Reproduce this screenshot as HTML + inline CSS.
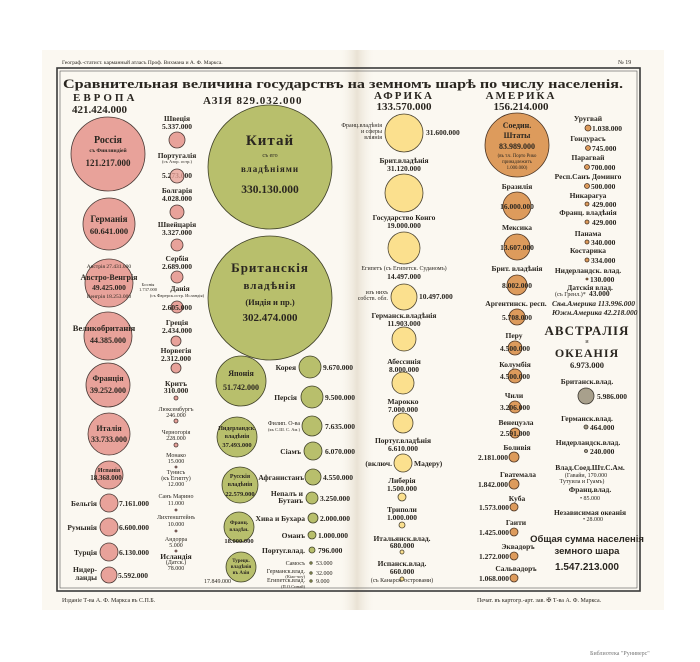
<!DOCTYPE html>
<html><head><meta charset="utf-8"><style>
html,body{margin:0;padding:0;background:#fff;}
svg{display:block;}
text{font-family:"Liberation Serif","DejaVu Serif",serif;fill:#2a2620;}
.b{font-weight:bold;}
.s{font-size:6px;}
.m{font-size:7.5px;font-weight:bold;}
.c{text-anchor:middle;}
.e{fill:#e8a29a;stroke:#4a3a36;stroke-width:.8;}
.a{fill:#b8bf6c;stroke:#3f4028;stroke-width:.8;}
.f{fill:#fbe08e;stroke:#4a4230;stroke-width:.8;}
.o{fill:#dd9b5c;stroke:#4a3424;stroke-width:.8;}
.g{fill:#a8a08c;stroke:#3a3630;stroke-width:.8;}
</style></head><body>
<svg width="700" height="662" viewBox="0 0 700 662" xmlns="http://www.w3.org/2000/svg">
<defs><linearGradient id="fold" x1="0" x2="1"><stop offset="0" stop-color="#f7f3ea" stop-opacity="0"/><stop offset=".5" stop-color="#e9e2d4"/><stop offset="1" stop-color="#f7f3ea" stop-opacity="0"/></linearGradient></defs>
<rect x="42" y="50" width="622" height="560" fill="#fbf8f1"/>
<rect x="340" y="50" width="34" height="560" fill="url(#fold)"/>
<text x="62" y="64" class="s" style="font-size:5.5px">Географ.-статист. карманный атласъ Проф. Вихмана и А. Ф. Маркса.</text>
<text x="618" y="64" class="s">№ 19</text>
<rect x="57" y="68" width="583" height="523" fill="none" stroke="#3a3a3a" stroke-width="1.6"/>
<rect x="60" y="71" width="577" height="517" fill="none" stroke="#555" stroke-width=".6"/>
<text x="63" y="88" class="b" style="font-size:12.5px" textLength="560" lengthAdjust="spacingAndGlyphs">Сравнительная величина государствъ на земномъ шарѣ по числу населенія.</text>
<text x="73" y="101" class="b" style="font-size:11px;letter-spacing:3px">ЕВРОПА</text>
<text x="72" y="113" class="b" style="font-size:11px">421.424.000</text>
<text x="203" y="104" class="b" style="font-size:11px;letter-spacing:1px">АЗІЯ 829.032.000</text>
<text x="404" y="99" class="b c" style="font-size:11px;letter-spacing:2px">АФРИКА</text>
<text x="404" y="110" class="b c" style="font-size:11px">133.570.000</text>
<text x="521" y="99" class="b c" style="font-size:11px;letter-spacing:2px">АМЕРИКА</text>
<text x="521" y="110" class="b c" style="font-size:11px">156.214.000</text>

<!-- Europe -->
<circle class="e" cx="108" cy="154" r="37"/>
<text x="108" y="143" class="b c" style="font-size:10px">Россія</text>
<text x="108" y="152" class="b c" style="font-size:5.5px">съ Финляндіей</text>
<text x="108" y="166" class="b c" style="font-size:9px">121.217.000</text>
<circle class="e" cx="109" cy="224" r="26"/>
<text x="109" y="222" class="b c" style="font-size:9px">Германія</text>
<text x="109" y="234" class="b c" style="font-size:8.5px">60.641.000</text>
<circle class="e" cx="109" cy="283" r="24"/>
<text x="109" y="268" class="c" style="font-size:5.5px">Австрія 27.431.000</text>
<text x="109" y="280" class="b c" style="font-size:8px">Австро-Венгрія</text>
<text x="109" y="290" class="b c" style="font-size:7.5px">49.425.000</text>
<text x="109" y="298" class="c" style="font-size:5.5px">Венгрія 18.253.000</text>
<text x="148" y="286" class="c" style="font-size:4.5px">Боснія</text><text x="148" y="291" class="c" style="font-size:4.5px">1.737.000</text>
<circle class="e" cx="108" cy="336" r="24"/>
<text x="104" y="331" class="b c" style="font-size:8.5px">Великобританія</text>
<text x="108" y="343" class="b c" style="font-size:8px">44.385.000</text>
<circle class="e" cx="108" cy="385" r="22"/>
<text x="108" y="381" class="b c" style="font-size:8px">Франція</text>
<text x="108" y="393" class="b c" style="font-size:8px">39.252.000</text>
<circle class="e" cx="109" cy="434" r="21"/>
<text x="109" y="431" class="b c" style="font-size:8px">Италія</text>
<text x="109" y="442" class="b c" style="font-size:8px">33.733.000</text>
<circle class="e" cx="109" cy="475" r="14"/>
<text x="109" y="472" class="b c" style="font-size:6px">Испанія</text>
<text x="106" y="480" class="b c" style="font-size:7px">18.368.000</text>
<circle class="e" cx="109" cy="503" r="9"/>
<text x="97" y="506" class="m" text-anchor="end">Бельгія</text><text x="119" y="506" class="m">7.161.000</text>
<circle class="e" cx="109" cy="527" r="9"/>
<text x="97" y="530" class="m" text-anchor="end">Румынія</text><text x="119" y="530" class="m">6.600.000</text>
<circle class="e" cx="109" cy="552" r="9"/>
<text x="97" y="555" class="m" text-anchor="end">Турція</text><text x="119" y="555" class="m">6.130.000</text>
<circle class="e" cx="109" cy="575" r="8"/>
<text x="97" y="572" class="m" text-anchor="end">Нидер-</text><text x="97" y="580" class="m" text-anchor="end">ланды</text><text x="118" y="578" class="m">5.592.000</text>

<g class="c">
<text x="177" y="121" class="m c">Швеція</text><text x="177" y="129" class="m c">5.337.000</text>
<circle class="e" cx="177" cy="140" r="8"/>
<text x="177" y="158" class="m c">Португалія</text><text x="177" y="163" class="c" style="font-size:4.5px">(съ Азор. остр.)</text>
<text x="177" y="178" class="m c">5.273.000</text><circle class="e" cx="177" cy="176" r="7" fill-opacity=".8"/>
<text x="177" y="193" class="m c">Болгарія</text><text x="177" y="201" class="m c">4.028.000</text>
<circle class="e" cx="177" cy="212" r="7"/>
<text x="177" y="227" class="m c">Швейцарія</text><text x="177" y="235" class="m c">3.327.000</text>
<circle class="e" cx="177" cy="245" r="6"/>
<text x="177" y="261" class="m c">Сербія</text><text x="177" y="269" class="m c">2.689.000</text>
<circle class="e" cx="177" cy="277" r="6"/>
<text x="180" y="291" class="m c">Данія</text><text x="177" y="297" class="c" style="font-size:4.5px">(съ Фарерск.остр. Исландія)</text>
<circle class="e" cx="177" cy="307" r="6"/><text x="177" y="310" class="m c">2.605.000</text>
<text x="177" y="325" class="m c">Греція</text><text x="177" y="333" class="m c">2.434.000</text>
<circle class="e" cx="176" cy="341" r="5"/>
<text x="176" y="353" class="m c">Норвегія</text><text x="176" y="361" class="m c">2.312.000</text>
<circle class="e" cx="176" cy="368" r="5"/>
<text x="176" y="386" class="m c">Критъ</text><text x="176" y="393" class="m c">310.000</text><circle class="e" cx="176" cy="398" r="2"/>
<text x="176" y="411" class="s c">Люксембургъ</text><text x="176" y="417" class="s c">246.000</text><circle class="e" cx="176" cy="421" r="2"/>
<text x="176" y="434" class="s c">Черногорія</text><text x="176" y="440" class="s c">228.000</text><circle class="e" cx="176" cy="445" r="2"/>
<text x="176" y="457" class="s c">Монако</text><text x="176" y="463" class="s c">15.000</text><circle class="e" cx="176" cy="467" r="1"/>
<text x="176" y="474" class="s c">Тунисъ</text><text x="176" y="480" class="s c">(къ Египту)</text><text x="176" y="486" class="s c">12.000</text>
<text x="176" y="498" class="s c">Санъ Марино</text><text x="176" y="505" class="s c">11.000</text><circle class="e" cx="176" cy="510" r="1"/>
<text x="176" y="519" class="s c">Лихтенштейнъ</text><text x="176" y="526" class="s c">10.000</text><circle class="e" cx="176" cy="531" r="1"/>
<text x="176" y="541" class="s c">Андорра</text><text x="176" y="547" class="s c">5.000</text><circle class="e" cx="176" cy="551" r="1"/>
<text x="176" y="559" class="m c">Исландія</text><text x="176" y="564" class="s c">(Датск.)</text><text x="176" y="570" class="s c">78.000</text>
</g>

<!-- Asia -->
<circle class="a" cx="270" cy="167" r="62"/>
<text x="270" y="145" class="b c" style="font-size:15px;letter-spacing:1px">Китай</text>
<text x="270" y="157" class="c" style="font-size:6px">съ его</text>
<text x="270" y="172" class="b c" style="font-size:9px;letter-spacing:1px">владѣніями</text>
<text x="270" y="193" class="b c" style="font-size:11.5px">330.130.000</text>
<circle class="a" cx="270" cy="298" r="62"/>
<text x="270" y="272" class="b c" style="font-size:13px;letter-spacing:1px">Британскія</text>
<text x="270" y="289" class="b c" style="font-size:11px;letter-spacing:1px">владѣнія</text>
<text x="270" y="305" class="b c" style="font-size:8.5px">(Индія и пр.)</text>
<text x="270" y="321" class="b c" style="font-size:11px">302.474.000</text>
<circle class="a" cx="241" cy="381" r="25"/>
<text x="241" y="376" class="b c" style="font-size:8px">Японія</text>
<text x="241" y="390" class="b c" style="font-size:8px">51.742.000</text>
<circle class="a" cx="237" cy="437" r="20"/>
<text x="237" y="430" class="b c" style="font-size:6px">Нидерландск.</text><text x="237" y="438" class="b c" style="font-size:6px">владѣнія</text><text x="237" y="447" class="b c" style="font-size:6.5px">37.493.000</text>
<circle class="a" cx="240" cy="485" r="18"/>
<text x="240" y="478" class="b c" style="font-size:6px">Русскія</text><text x="240" y="486" class="b c" style="font-size:6px">владѣнія</text><text x="240" y="496" class="b c" style="font-size:6.5px">22.579.000</text>
<circle class="a" cx="239" cy="527" r="15"/>
<text x="239" y="524" class="b c" style="font-size:5.5px">Франц.</text><text x="239" y="531" class="b c" style="font-size:5.5px">владѣн.</text><text x="239" y="543" class="b c" style="font-size:6.5px">18.000.000</text>
<circle class="a" cx="241" cy="567" r="15"/>
<text x="241" y="562" class="b c" style="font-size:5px">Турецк.</text><text x="241" y="568" class="b c" style="font-size:5px">владѣнія</text><text x="241" y="574" class="b c" style="font-size:5px">въ Азіи</text>
<text x="204" y="583" class="s">17.849.000</text>
<circle class="a" cx="310" cy="367" r="11"/><text x="296" y="370" class="m" text-anchor="end">Корея</text><text x="323" y="370" class="m">9.670.000</text>
<circle class="a" cx="312" cy="397" r="11"/><text x="297" y="400" class="m" text-anchor="end">Персія</text><text x="325" y="400" class="m">9.500.000</text>
<circle class="a" cx="312" cy="426" r="10"/><text x="300" y="425" class="s" text-anchor="end">Филип. О-ва</text><text x="300" y="431" class="s" style="font-size:4.5px" text-anchor="end">(къ С.Ш. С. Ам.)</text><text x="325" y="429" class="m">7.635.000</text>
<circle class="a" cx="313" cy="451" r="9"/><text x="301" y="454" class="m" text-anchor="end">Сіамъ</text><text x="325" y="454" class="m">6.070.000</text>
<circle class="a" cx="313" cy="477" r="8"/><text x="304" y="480" class="m" text-anchor="end">Афганистанъ</text><text x="323" y="480" class="m">4.550.000</text>
<circle class="a" cx="312" cy="498" r="6"/><text x="303" y="496" class="m" text-anchor="end">Непалъ и</text><text x="303" y="503" class="m" text-anchor="end">Бутанъ</text><text x="320" y="501" class="m">3.250.000</text>
<circle class="a" cx="313" cy="518" r="5"/><text x="305" y="521" class="m" text-anchor="end">Хива и Бухара</text><text x="320" y="521" class="m">2.000.000</text>
<circle class="a" cx="312" cy="535" r="4"/><text x="305" y="538" class="m" text-anchor="end">Оманъ</text><text x="318" y="538" class="m">1.000.000</text>
<circle class="a" cx="312" cy="550" r="3"/><text x="305" y="553" class="m" text-anchor="end">Португ.влад.</text><text x="318" y="553" class="m">796.000</text>
<circle class="a" cx="311" cy="563" r="1.2"/><text x="305" y="565" class="s" text-anchor="end">Самосъ</text><text x="316" y="565" class="s">53.000</text>
<circle class="a" cx="311" cy="573" r="1.2"/><text x="305" y="573" class="s" text-anchor="end">Германск.влад.</text><text x="305" y="578" class="s" style="font-size:4.5px" text-anchor="end">(Кiао-чоу)</text><text x="316" y="575" class="s">32.000</text>
<circle class="a" cx="311" cy="581" r="1.2"/><text x="305" y="582" class="s" text-anchor="end">Египетск.влад.</text><text x="305" y="588" class="s" style="font-size:4.5px" text-anchor="end">(П.О.Синай)</text><text x="316" y="583" class="s">9.000</text>

<!-- Africa -->
<circle class="f" cx="404" cy="133" r="19"/>
<text x="382" y="127" class="s" text-anchor="end">Франц.владѣнія</text><text x="382" y="133" class="s" text-anchor="end">и сферы</text><text x="382" y="139" class="s" text-anchor="end">вліянія</text>
<text x="426" y="135" class="m">31.600.000</text>
<text x="404" y="163" class="m c">Брит.владѣнія</text><text x="404" y="171" class="m c">31.120.000</text>
<circle class="f" cx="404" cy="193" r="19"/>
<text x="404" y="220" class="m c">Государство Конго</text><text x="404" y="228" class="m c">19.000.000</text>
<circle class="f" cx="404" cy="248" r="16"/>
<text x="404" y="270" class="s c">Египетъ (съ Египетск. Суданомъ)</text><text x="404" y="279" class="m c">14.497.000</text>
<circle class="f" cx="404" cy="297" r="13"/>
<text x="388" y="294" class="s" text-anchor="end">изъ нихъ</text><text x="388" y="300" class="s" text-anchor="end">собств. обл.</text><text x="419" y="299" class="m">10.497.000</text>
<text x="404" y="318" class="m c">Германск.владѣнія</text><text x="404" y="326" class="m c">11.903.000</text>
<circle class="f" cx="404" cy="339" r="12"/>
<text x="404" y="364" class="m c">Абессинія</text><text x="404" y="372" class="m c">8.000.000</text>
<circle class="f" cx="403" cy="383" r="11"/>
<text x="403" y="404" class="m c">Марокко</text><text x="403" y="412" class="m c">7.000.000</text>
<circle class="f" cx="403" cy="423" r="10"/>
<text x="403" y="443" class="m c">Португ.владѣнія</text><text x="403" y="451" class="m c">6.610.000</text>
<circle class="f" cx="403" cy="463" r="9"/>
<text x="392" y="466" class="m" text-anchor="end">(включ.</text><text x="414" y="466" class="m">Мадеру)</text>
<text x="402" y="483" class="m c">Либерія</text><text x="402" y="491" class="m c">1.500.000</text>
<circle class="f" cx="402" cy="497" r="4"/>
<text x="402" y="512" class="m c">Триполи</text><text x="402" y="520" class="m c">1.000.000</text>
<circle class="f" cx="402" cy="525" r="3"/>
<text x="402" y="541" class="m c">Итальянск.влад.</text><text x="402" y="548" class="m c">680.000</text>
<circle class="f" cx="402" cy="552" r="2"/>
<text x="402" y="566" class="m c">Испанск.влад.</text><text x="402" y="574" class="m c">660.000</text>
<circle class="f" cx="402" cy="579" r="2"/><text x="402" y="582" class="s c">(съ Канарск. островами)</text>

<!-- America -->
<circle class="o" cx="517" cy="145" r="32"/>
<text x="517" y="128" class="b c" style="font-size:8px">Соедин.</text><text x="517" y="138" class="b c" style="font-size:8px">Штаты</text>
<text x="517" y="149" class="b c" style="font-size:8px">83.989.000</text>
<text x="517" y="157" class="c" style="font-size:4.8px">(въ т.ч. Порто Рико</text><text x="517" y="163" class="c" style="font-size:4.8px">принадлежитъ</text><text x="517" y="169" class="c" style="font-size:4.8px">1.000.000)</text>
<text x="517" y="189" class="m c">Бразилія</text>
<circle class="o" cx="517" cy="206" r="14"/><text x="517" y="209" class="m c">16.000.000</text>
<text x="517" y="230" class="m c">Мексика</text>
<circle class="o" cx="517" cy="247" r="13"/><text x="517" y="250" class="m c">13.607.000</text>
<text x="517" y="271" class="m c">Брит. владѣнія</text>
<circle class="o" cx="517" cy="285" r="10"/><text x="517" y="288" class="m c">8.002.000</text>
<text x="516" y="306" class="m c">Аргентинск. респ.</text>
<circle class="o" cx="517" cy="317" r="8"/><text x="517" y="320" class="m c">5.708.000</text>
<text x="514" y="338" class="m c">Перу</text>
<circle class="o" cx="515" cy="348" r="7"/><text x="515" y="351" class="m c">4.500.000</text>
<text x="515" y="367" class="m c">Колумбія</text>
<circle class="o" cx="515" cy="376" r="7"/><text x="515" y="379" class="m c">4.500.000</text>
<text x="514" y="398" class="m c">Чили</text>
<circle class="o" cx="515" cy="407" r="6"/><text x="515" y="410" class="m c">3.206.000</text>
<text x="516" y="425" class="m c">Венецуэла</text>
<circle class="o" cx="515" cy="433" r="5"/><text x="515" y="436" class="m c">2.591.000</text>
<text x="517" y="450" class="m c">Боливія</text>
<circle class="o" cx="514" cy="457" r="5"/><text x="508" y="460" class="m" text-anchor="end">2.181.000</text>
<text x="518" y="477" class="m c">Гватемала</text>
<circle class="o" cx="514" cy="484" r="5"/><text x="508" y="487" class="m" text-anchor="end">1.842.000</text>
<text x="517" y="501" class="m c">Куба</text>
<circle class="o" cx="514" cy="507" r="4"/><text x="509" y="510" class="m" text-anchor="end">1.573.000</text>
<text x="516" y="525" class="m c">Гаити</text>
<circle class="o" cx="514" cy="532" r="4"/><text x="509" y="535" class="m" text-anchor="end">1.425.000</text>
<text x="518" y="549" class="m c">Эквадоръ</text>
<circle class="o" cx="514" cy="556" r="4"/><text x="509" y="559" class="m" text-anchor="end">1.272.000</text>
<text x="516" y="571" class="m c">Сальвадоръ</text>
<circle class="o" cx="514" cy="578" r="4"/><text x="509" y="581" class="m" text-anchor="end">1.068.000</text>

<text x="588" y="121" class="m c">Уругвай</text><circle class="o" cx="588" cy="128" r="3"/><text x="592" y="131" class="m">1.038.000</text>
<text x="588" y="141" class="m c">Гондурасъ</text><circle class="o" cx="588" cy="148" r="2.5"/><text x="592" y="151" class="m">745.000</text>
<text x="588" y="160" class="m c">Парагвай</text><circle class="o" cx="587" cy="167" r="2.5"/><text x="591" y="170" class="m">700.000</text>
<text x="588" y="179" class="m c">Респ.Санъ Доминго</text><circle class="o" cx="587" cy="186" r="2.5"/><text x="591" y="189" class="m">500.000</text>
<text x="588" y="198" class="m c">Никарагуа</text><circle class="o" cx="587" cy="204" r="2"/><text x="592" y="207" class="m">429.000</text>
<text x="588" y="215" class="m c">Франц. владѣнія</text><circle class="o" cx="587" cy="222" r="2"/><text x="592" y="225" class="m">429.000</text>
<text x="588" y="236" class="m c">Панама</text><circle class="o" cx="587" cy="242" r="2"/><text x="591" y="245" class="m">340.000</text>
<text x="588" y="253" class="m c">Костарика</text><circle class="o" cx="587" cy="260" r="2"/><text x="591" y="263" class="m">334.000</text>
<text x="588" y="273" class="m c">Нидерландск. влад.</text><circle class="o" cx="587" cy="279" r="1"/><text x="590" y="282" class="m">130.000</text>
<text x="590" y="290" class="m c">Датскія влад.</text><text x="555" y="296" class="s">(съ Гренл.)*</text><text x="589" y="296" class="m">43.000</text>
<text x="552" y="306" class="m" style="font-style:italic">Сѣв.Америка 113.996.000</text>
<text x="552" y="315" class="m" style="font-style:italic">Южн.Америка 42.218.000</text>

<!-- Australia -->
<text x="587" y="335" class="b c" style="font-size:13px;letter-spacing:1px">АВСТРАЛІЯ</text>
<text x="587" y="343" class="s c">и</text>
<text x="587" y="357" class="b c" style="font-size:12px;letter-spacing:1px">ОКЕАНІЯ</text>
<text x="587" y="368" class="b c" style="font-size:8.5px">6.973.000</text>
<text x="587" y="384" class="m c">Британск.влад.</text>
<circle class="g" cx="586" cy="396" r="8"/><text x="597" y="399" class="m">5.986.000</text>
<text x="587" y="421" class="m c">Германск.влад.</text><circle class="g" cx="586" cy="427" r="2"/><text x="590" y="430" class="m">464.000</text>
<text x="588" y="445" class="m c">Нидерландск.влад.</text><circle class="g" cx="586" cy="451" r="1.5"/><text x="590" y="454" class="m">240.000</text>
<text x="590" y="470" class="m c">Влад.Соед.Шт.С.Ам.</text><text x="586" y="477" class="s c">(Гавайи, 170.000</text><text x="582" y="483" class="s c">Тутуила и Гуамъ)</text>
<text x="590" y="492" class="m c">Франц.влад.</text><text x="590" y="500" class="s c">• 85.000</text>
<text x="590" y="515" class="m c">Независимая океанія</text><text x="593" y="521" class="s c">• 28.000</text>
<text x="587" y="542" class="c" style="font-family:'Liberation Sans',sans-serif;font-size:9.5px;font-weight:bold">Общая сумма населенія</text>
<text x="587" y="554" class="c" style="font-family:'Liberation Sans',sans-serif;font-size:9.5px;font-weight:bold">земного шара</text>
<text x="587" y="570" class="c" style="font-family:'Liberation Sans',sans-serif;font-size:10px;font-weight:bold">1.547.213.000</text>

<text x="62" y="602" class="s">Изданіе Т-ва А. Ф. Маркса въ С.П.Б.</text>
<text x="477" y="602" class="s">Печат. въ картогр.-арт. зав. ✠ Т-ва А. Ф. Маркса.</text>
<text x="590" y="655" style="font-size:6px;fill:#777">Библиотека "Руниверс"</text>
</svg>
</body></html>
